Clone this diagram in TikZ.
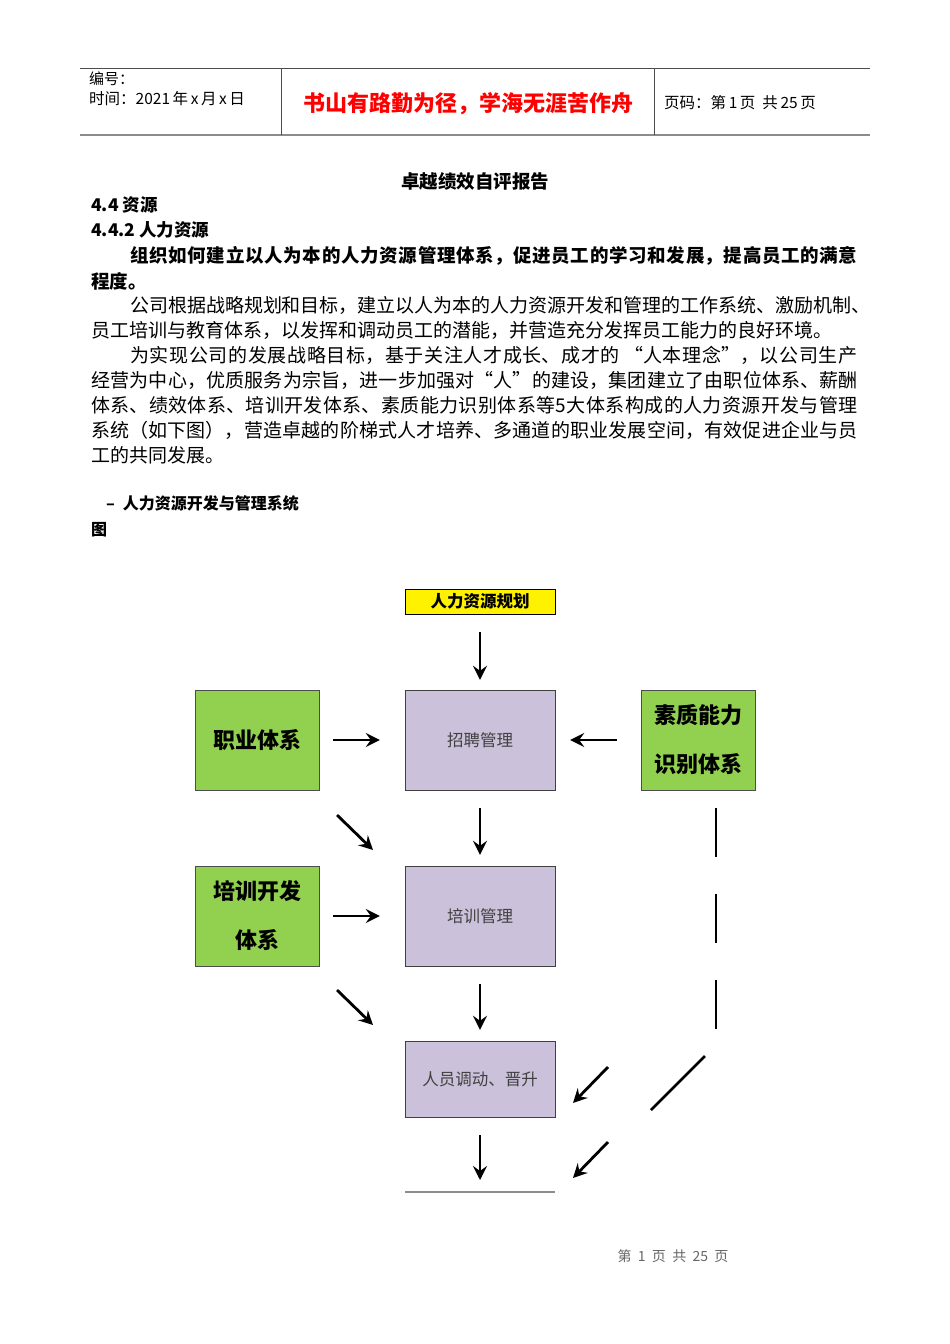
\documentclass[tikz,border=0pt]{standalone}
\usepackage{fontspec}
\setmainfont{Noto Sans CJK SC}
\usepackage{xcolor}
\usetikzlibrary{arrows.meta, positioning}
\definecolor{sysgreen}{HTML}{92D050}
\definecolor{mgmtpurple}{HTML}{CCC1DA}
\definecolor{rulegray}{HTML}{8C8C8C}
\XeTeXlinebreaklocale "zh"
\XeTeXlinebreakskip=0pt plus 1fil minus 1pt
\newcommand{\fullpar}[1]{\noindent\parfillskip=0pt #1}

\begin{document}
\begin{tikzpicture}[x=1pt, y=-1pt,
  planbox/.style={draw, fill=yellow, minimum width=150pt, minimum height=25pt, inner sep=0pt, font=\fontsize{16.5}{18}\selectfont\bfseries},
  sysbox/.style={draw=black!70, fill=sysgreen, minimum width=124pt, minimum height=100pt, inner sep=0pt, align=center, font=\fontsize{22}{49}\selectfont\bfseries},
  mgmtbox/.style={draw=black!75, fill=mgmtpurple, minimum width=150pt, minimum height=100pt, inner sep=0pt, text=black!75, font=\fontsize{16.5}{20}\selectfont},
  edge/.style={-{Stealth[length=14pt,width=14pt,inset=5pt]}, line width=2.8pt},
  plainline/.style={line width=2.6pt},
  bodyline/.style={anchor=west, inner sep=0pt, font=\fontsize{19}{25}\selectfont},
  fullline/.style={bodyline, text width=#1, align=justify},
  headline/.style={anchor=west, inner sep=0pt, font=\fontsize{17.5}{20}\selectfont\bfseries}
]
\path[fill=white, use as bounding box] (0,0) rectangle (950,1344);

% Header table
\draw[black!70, line width=0.8pt] (80,68) -- (870,68);
\draw[rulegray, line width=2pt] (80,135) -- (870,135);
\draw[black!70, line width=0.8pt] (281,68) -- (281,135);
\draw[black!70, line width=0.8pt] (654,68) -- (654,135);
\node[anchor=west, inner sep=0pt, font=\fontsize{15}{17}\selectfont] (serial) at (89,79) {编号：};
\node[anchor=west, inner sep=0pt, font=\fontsize{15.5}{17}\selectfont] (date) at (89,99) {时间：2021\,年\,x\,月\,x\,日};
\node[red, inner sep=0pt, font=\fontsize{22}{24}\selectfont\bfseries] (motto) at (468,104) {书山有路勤为径，学海无涯苦作舟};
\node[anchor=west, inner sep=0pt, font=\fontsize{15.5}{17}\selectfont] (pageno) at (664,103) {页码：第\,1\,页\ \ 共\,25\,页};

% Report text
\node[inner sep=0pt, font=\fontsize{18.5}{20}\selectfont\bfseries] (title) at (475,181) {卓越绩效自评报告};
\node[headline] (sec) at (91,205) {4.4 资源};
\node[headline] (subsec) at (91,230) {4.4.2 人力资源};
\node[fullline=728pt, font=\fontsize{18.5}{25}\selectfont\bfseries] (q1) at (130,256) {\fullpar{组织如何建立以人为本的人力资源管理体系，促进员工的学习和发展，提高员工的满意}};
\node[headline, font=\fontsize{18.5}{25}\selectfont\bfseries] (q2) at (91,281) {程度。};
\node[fullline=740pt] (p1) at (130,305) {\fullpar{公司根据战略规划和目标，建立以人为本的人力资源开发和管理的工作系统、激励机制、}};
\node[bodyline] (p2) at (91,330) {员工培训与教育体系，以发挥和调动员工的潜能，并营造充分发挥员工能力的良好环境。};
\node[fullline=728pt] (p3) at (130,355) {\fullpar{为实现公司的发展战略目标，基于关注人才成长、成才的 “人本理念”，以公司生产}};
\node[fullline=767pt] (p4) at (91,380) {\fullpar{经营为中心，优质服务为宗旨，进一步加强对“人”的建设，集团建立了由职位体系、薪酬}};
\node[fullline=767pt] (p5) at (91,405) {\fullpar{体系、绩效体系、培训开发体系、素质能力识别体系等5大体系构成的人力资源开发与管理}};
\node[fullline=767pt] (p6) at (91,430) {\fullpar{系统（如下图），营造卓越的阶梯式人才培养、多通道的职业发展空间，有效促进企业与员}};
\node[bodyline] (p7) at (91,455) {工的共同发展。};
\node[headline, font=\fontsize{16}{18}\selectfont\bfseries] (figname) at (106,503) {–\hspace{8pt}人力资源开发与管理系统};
\node[headline, font=\fontsize{16}{18}\selectfont\bfseries] (figword) at (91,530) {图};

% Boxes
\node[planbox] (plan) at (480,601.5) {人力资源规划};
\node[mgmtbox] (recruit) at (480,740) {招聘管理};
\node[mgmtbox] (train) at (480,916) {培训管理};
\node[mgmtbox, minimum height=76pt] (move) at (480,1079) {人员调动、晋升};
\node[sysbox] (career) at (257,740) {职业体系};
\node[sysbox, minimum width=114pt] (quality) at (698,740) {素质能力\\识别体系};
\node[sysbox] (develop) at (257,916) {培训开发\\体系};
\coordinate (outL) at (405,1192);
\coordinate (outR) at (555,1192);
\coordinate (out) at (480,1192);
\draw[rulegray, line width=1.2pt] (outL) -- (outR);

% Arrows
\draw[edge, shorten <=18pt, shorten >=10pt] (plan) -- (recruit);
\draw[edge, shorten <=14pt, shorten >=25pt] (career) -- (recruit);
\draw[edge, shorten <=24pt, shorten >=15pt] (quality) -- (recruit);
\draw[edge, shorten <=18pt, shorten >=11pt] (recruit) -- (train);
\draw[edge, shorten <=14pt, shorten >=25pt] (develop) -- (train);
\draw[edge, shorten <=18pt, shorten >=11pt] (train) -- (move);
\draw[edge, shorten <=18pt, shorten >=12pt] (move) -- (out);

\coordinate (c1s) at (337,815);  \coordinate (c1e) at (373,850);
\coordinate (c2s) at (337,990);  \coordinate (c2e) at (373,1025);
\coordinate (q1s) at (608,1067); \coordinate (q1e) at (573,1103);
\coordinate (q2s) at (608,1142); \coordinate (q2e) at (573,1178);
\draw[edge] (c1s) -- (c1e);
\draw[edge] (c2s) -- (c2e);
\draw[edge] (q1s) -- (q1e);
\draw[edge] (q2s) -- (q2e);

% Broken line from the right box
\coordinate (vs) at (716,808);  \coordinate (ve) at (716,1032);
\coordinate (ds) at (705,1056); \coordinate (de) at (651,1110);
\draw[plainline, dash pattern=on 49pt off 37pt] (vs) -- (ve);
\draw[plainline] (ds) -- (de);

% Footer
\node[text=black!60, inner sep=0pt, font=\fontsize{14}{15}\selectfont] (footer) at (673,1256) {第\ \ 1\ \ 页\ \ 共\ \ 25\ \ 页};
\end{tikzpicture}
\end{document}
